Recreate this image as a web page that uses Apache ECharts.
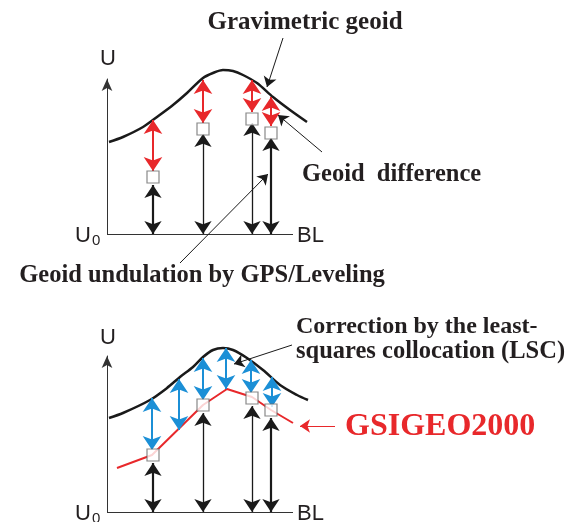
<!DOCTYPE html>
<html><head><meta charset="utf-8">
<script src="https://cdn.jsdelivr.net/npm/echarts@6/dist/echarts.min.js"></script>
<style>html,body{margin:0;padding:0;background:#fff}#c{width:576px;height:522px}</style>
</head><body><div id="c"></div>
<script>
// ---- data (x: distance along BL, y: potential U above U0) ----
const stationX = [46, 96, 145, 164];
const baseLine = [0, 186];

// top panel
const topGeoidX = [2, 16, 36, 50, 66, 80, 96, 106, 116, 126, 136, 150, 166, 183, 200];
const topGeoidY = [92, 97, 107, 117, 129, 141, 156, 161, 164, 163, 159, 151, 137, 124, 112];
const topBoxY = [57, 105, 115, 101];
const topRedTop = [114, 154, 154, 137];
const topRedBottom = [63, 111, 122, 108];
const topBlackTop = [49, 100, 111, 96];

// bottom panel
const botGeoidX = [2, 16, 43, 60, 73, 86, 96, 106, 116, 126, 140, 156, 173, 190, 201];
const botGeoidY = [94, 99, 112, 124, 135, 145, 155, 162, 164, 162, 154, 142, 127, 117, 112];
const gsiX = [10, 45, 96, 120, 145, 164, 186];
const gsiY = [44, 57, 107, 123, 115, 102, 89];
const botBoxY = [57, 107, 114, 102];
const blueX = [45, 72, 96, 119, 144, 165];
const blueTop = [114, 133, 154, 164, 152, 135];
const blueBottom = [62, 82, 112, 123, 119, 105];
const botBlackTop = [49, 99, 106, 94];

const RED = '#e8282b', BLUE = '#1b8fd6', BLK = '#1a1a1a', TXT = '#231f20';
const serif = '"Liberation Serif","Times New Roman",serif';
const sans = '"Liberation Sans",Arial,sans-serif';

function zip(xs, ys) { return xs.map((x, i) => [x, ys[i]]); }
function arrows(xs, tops, bots) { return xs.map((x, i) => ({ coords: [[x, tops[i]], [x, bots[i]]] })); }

const chart = echarts.init(document.getElementById('c'), null, { renderer: 'canvas' });

function axes(idx, ymax) {
  return {
    x: { type: 'value', gridIndex: idx, min: 0, max: 215, axisLine: { show: false }, axisTick: { show: false }, axisLabel: { show: false }, splitLine: { show: false } },
    y: { type: 'value', gridIndex: idx, min: 0, max: ymax, axisLine: { show: true, onZero: false, symbol: ['none', 'arrow'], symbolSize: [8, 12], lineStyle: { color: '#333', width: 1 } }, axisTick: { show: false }, axisLabel: { show: false }, splitLine: { show: false } }
  };
}
const a0 = axes(0, 155), a1 = axes(1, 156);

function dbl(gi, data, color, width, size) {
  return { type: 'lines', coordinateSystem: 'cartesian2d', xAxisIndex: gi, yAxisIndex: gi, clip: false, z: 3,
    symbol: ['arrow', 'arrow'], symbolSize: size,
    lineStyle: { color: color, width: width, opacity: 1 }, data: data };
}
function leader(gi, from, to, color) {
  return { type: 'lines', coordinateSystem: 'cartesian2d', xAxisIndex: gi, yAxisIndex: gi, clip: false, z: 4,
    symbol: ['none', 'arrow'], symbolSize: 10,
    lineStyle: { color: color, width: 1, opacity: 1 }, data: [{ coords: [from, to] }] };
}
function base(gi) {
  return { type: 'lines', coordinateSystem: 'cartesian2d', xAxisIndex: gi, yAxisIndex: gi, clip: false, z: 1,
    symbol: 'none', lineStyle: { color: '#333', width: 1, opacity: 1 },
    data: [{ coords: [[baseLine[0], 0], [baseLine[1], 0]] }] };
}
function boxes(gi, ys) {
  return { type: 'scatter', xAxisIndex: gi, yAxisIndex: gi, clip: false, z: 5, symbol: 'rect', symbolSize: 12,
    itemStyle: { color: '#fff', borderColor: '#6a6a6a', borderWidth: 1.2 }, data: zip(stationX, ys) };
}
function blacks(gi, tops) {
  const all = arrows(stationX, tops, stationX.map(() => 0));
  return [dbl(gi, [all[0], all[3]], BLK, 2.2, 13), dbl(gi, all.slice(1, 3), BLK, 1.3, 13)];
}

const option = {
  animation: false,
  backgroundColor: '#fff',
  grid: [
    { left: 107, top: 79, width: 215, height: 155 },
    { left: 107, top: 356, width: 215, height: 156 }
  ],
  xAxis: [a0.x, a1.x],
  yAxis: [a0.y, a1.y],
  series: [
    base(0),
    { type: 'line', xAxisIndex: 0, yAxisIndex: 0, clip: false, smooth: 0.3, showSymbol: false, z: 2,
      lineStyle: { color: BLK, width: 2.5 }, data: zip(topGeoidX, topGeoidY) },
    dbl(0, arrows(stationX, topRedTop, topRedBottom), RED, 2, 14),
    ...blacks(0, topBlackTop),
    boxes(0, topBoxY),
    leader(0, [176, 196], [160, 147], BLK),
    leader(0, [215, 82], [171, 119], BLK),
    leader(0, [73, -29], [161, 60], BLK),

    base(1),
    { type: 'line', xAxisIndex: 1, yAxisIndex: 1, clip: false, smooth: 0.3, showSymbol: false, z: 2,
      lineStyle: { color: BLK, width: 2.5 }, data: zip(botGeoidX, botGeoidY) },
    { type: 'line', xAxisIndex: 1, yAxisIndex: 1, clip: false, smooth: false, showSymbol: false, z: 2,
      lineStyle: { color: RED, width: 2 }, data: zip(gsiX, gsiY) },
    dbl(1, arrows(blueX, blueTop, blueBottom), BLUE, 2, 14),
    ...blacks(1, botBlackTop),
    boxes(1, botBoxY),
    leader(1, [185, 167], [127, 148], BLK),
    leader(1, [228, 86], [193, 86], RED)
  ],
  graphic: [
    { type: 'text', x: 305, y: 23, style: { text: 'Gravimetric geoid', font: 'bold 25px ' + serif, fill: TXT, align: 'center', verticalAlign: 'middle' } },
    { type: 'text', x: 302, y: 175, style: { text: 'Geoid  difference', font: 'bold 24.5px ' + serif, fill: TXT, align: 'left', verticalAlign: 'middle' } },
    { type: 'text', x: 202, y: 276, style: { text: 'Geoid undulation by GPS/Leveling', font: 'bold 24.5px ' + serif, fill: TXT, align: 'center', verticalAlign: 'middle' } },
    { type: 'text', x: 296, y: 327, style: { text: 'Correction by the least-', font: 'bold 24px ' + serif, fill: TXT, align: 'left', verticalAlign: 'middle' } },
    { type: 'text', x: 296, y: 352, style: { text: 'squares collocation (LSC)', font: 'bold 24.5px ' + serif, fill: TXT, align: 'left', verticalAlign: 'middle' } },
    { type: 'text', x: 345, y: 427, style: { text: 'GSIGEO2000', font: 'bold 32px ' + serif, fill: RED, align: 'left', verticalAlign: 'middle' } },
    { type: 'text', x: 108, y: 59, style: { text: 'U', font: '22px ' + sans, fill: TXT, align: 'center', verticalAlign: 'middle' } },
    { type: 'text', x: 108, y: 338, style: { text: 'U', font: '22px ' + sans, fill: TXT, align: 'center', verticalAlign: 'middle' } },
    { type: 'text', x: 297, y: 236, style: { text: 'BL', font: '22px ' + sans, fill: TXT, align: 'left', verticalAlign: 'middle' } },
    { type: 'text', x: 297, y: 514, style: { text: 'BL', font: '22px ' + sans, fill: TXT, align: 'left', verticalAlign: 'middle' } },
    { type: 'text', x: 91, y: 236, style: { text: 'U', font: '22px ' + sans, fill: TXT, align: 'right', verticalAlign: 'middle' } },
    { type: 'text', x: 92, y: 241, style: { text: '0', font: '15px ' + sans, fill: TXT, align: 'left', verticalAlign: 'middle' } },
    { type: 'text', x: 91, y: 514, style: { text: 'U', font: '22px ' + sans, fill: TXT, align: 'right', verticalAlign: 'middle' } },
    { type: 'text', x: 92, y: 519, style: { text: '0', font: '15px ' + sans, fill: TXT, align: 'left', verticalAlign: 'middle' } }
  ]
};
chart.setOption(option);
</script>
</body></html>
